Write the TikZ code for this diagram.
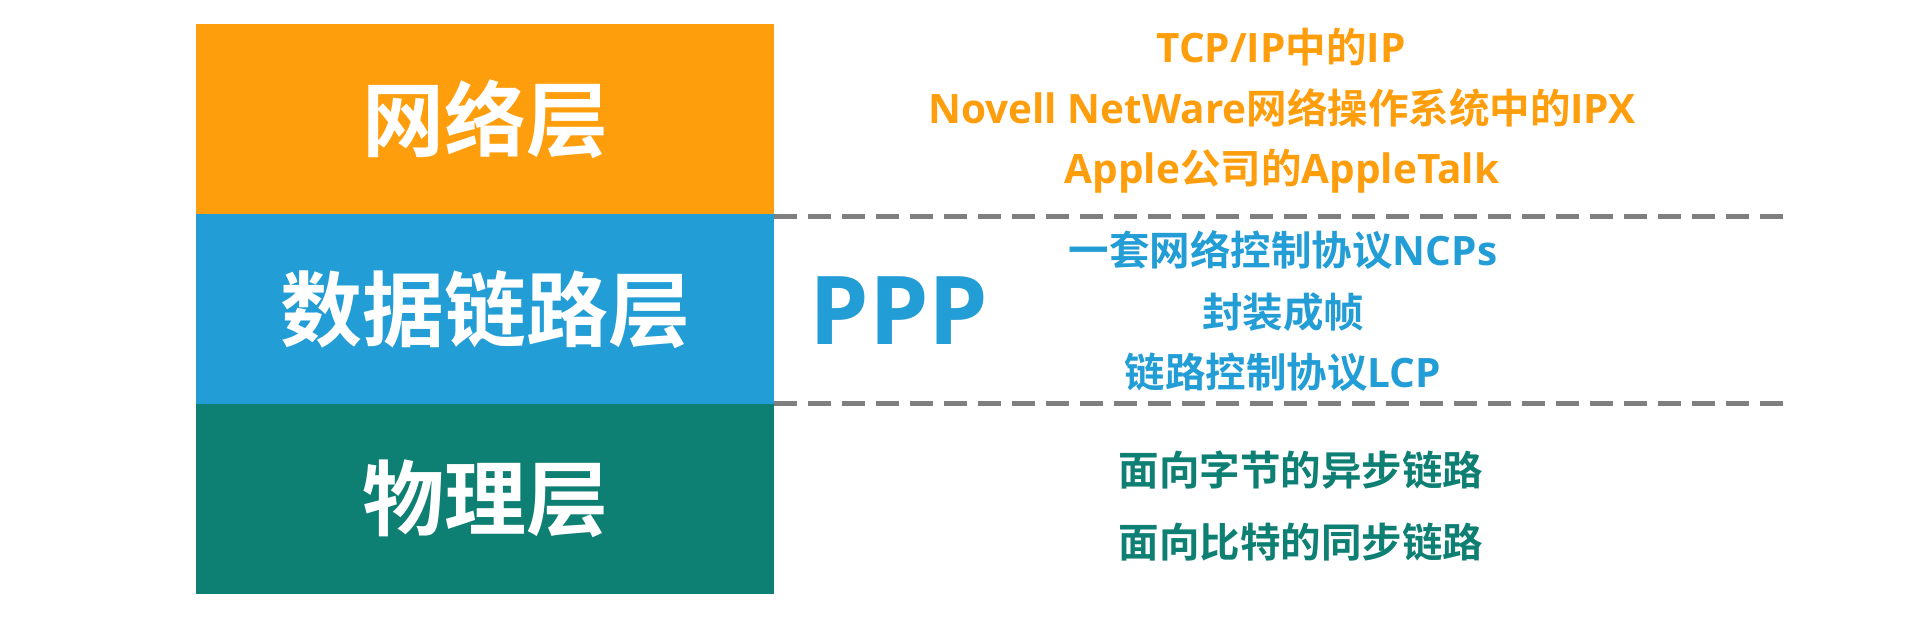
\documentclass[tikz,border=0pt]{standalone}
\usepackage{fontspec}
\setmainfont{Noto Sans CJK SC}[BoldFont={Noto Sans CJK SC Bold}]
\newfontfamily\cjkb{Noto Sans CJK SC Bold}
\newfontfamily\latb{Open Sans}[BoldFont={Open Sans Bold}]
\newcommand{\latw}[1]{{\latb\bfseries #1}}
\definecolor{orangeL}{HTML}{FF9E0C}
\definecolor{blueL}{HTML}{239DD6}
\definecolor{tealL}{HTML}{0E7F73}
\definecolor{dashG}{HTML}{7F7F7F}
\begin{document}
\begin{tikzpicture}[x=1pt,y=1pt,
  layer/.style={draw=none,minimum width=578pt,minimum height=190pt,anchor=north west,inner sep=0pt,text=white,font=\cjkb\fontsize{82}{90}\selectfont},
  sep/.style={draw=dashG,line width=5pt,dash pattern=on 23pt off 11pt},
  info/.style={inner sep=0pt,font=\cjkb\fontsize{40.5}{46}\selectfont},
  ppp/.style={inner sep=0pt,text=blueL,font=\latb\bfseries\fontsize{95}{100}\selectfont}]
\useasboundingbox (0,0) rectangle (1920,-618);
\fill[white] (0,0) rectangle (1920,-618);
\node[layer,fill=orangeL] (net) at (196,-24) {网络层};
\node[layer,fill=blueL] (dl) at (196,-214) {数据链路层};
\node[layer,fill=tealL] (phy) at (196,-404) {物理层};
\coordinate (e1) at (1790,-216);
\coordinate (e2) at (1790,-403);
\draw[sep] (dl.north east) ++(0,-2) -- (e1);
\draw[sep] (phy.north east) ++(0,1) -- (e2);
\node[ppp] (p) at (899,-311) {PPP};
\node[info,text=orangeL] (o1) at (1281,-47) {\latw{TCP/IP}中的\latw{IP}};
\node[info,text=orangeL] (o2) at (1282,-108) {\latw{Novell NetWare}网络操作系统中的\latw{IPX}};
\node[info,text=orangeL] (o3) at (1282,-171) {\latw{Apple}公司的\latw{AppleTalk}};
\node[info,text=blueL] (b1) at (1283,-250) {一套网络控制协议\latw{NCPs}};
\node[info,text=blueL] (b2) at (1283,-312) {封装成帧};
\node[info,text=blueL] (b3) at (1283,-372) {链路控制协议\latw{LCP}};
\node[info,text=tealL] (g1) at (1301,-470) {面向字节的异步链路};
\node[info,text=tealL] (g2) at (1301,-542) {面向比特的同步链路};
\end{tikzpicture}
\end{document}
